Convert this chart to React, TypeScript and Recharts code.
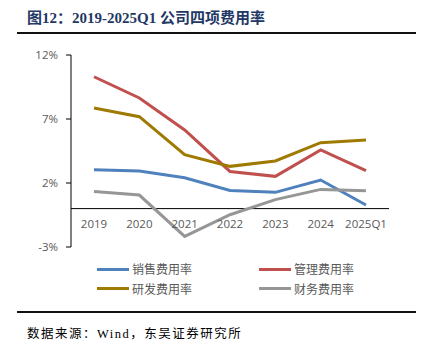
import { LineChart, Line, XAxis, YAxis, ReferenceLine, Legend } from 'recharts';

const categories = ['2019', '2020', '2021', '2022', '2023', '2024', '2025Q1'];
const sales = [3.04, 2.94, 2.41, 1.42, 1.27, 2.23, 0.28];
const admin = [10.3, 8.64, 6.14, 2.9, 2.52, 4.58, 2.96];
const rnd = [7.86, 7.18, 4.21, 3.3, 3.72, 5.15, 5.36];
const finance = [1.34, 1.06, -2.17, -0.48, 0.7, 1.5, 1.4];
const yTicks = [-3, 2, 7, 12];

const data = categories.map((name, i) => ({
  name,
  sales: sales[i],
  admin: admin[i],
  rnd: rnd[i],
  finance: finance[i],
}));

const series = [
  { key: 'sales', name: '销售费用率', color: '#4F81BD' },
  { key: 'admin', name: '管理费用率', color: '#C0504D' },
  { key: 'rnd', name: '研发费用率', color: '#9E7A00' },
  { key: 'finance', name: '财务费用率', color: '#969696' },
];

const sans = '"Open Sans", "Noto Sans CJK SC", sans-serif';

const XTick = (props: any) => {
  const { x, y, payload } = props;
  return (
    <text x={x} y={y - 19} textAnchor="middle" fill="#595959" fontSize={11.5} fontFamily={sans}>
      {payload.value}
    </text>
  );
};

const LegendBox = () => (
  <div style={{ position: 'relative', width: 425, height: 40 }}>
    {series.map((s, i) => (
      <div
        key={s.key}
        style={{
          position: 'absolute',
          left: i % 2 === 0 ? 97 : 259,
          top: i < 2 ? 0 : 19.5,
          display: 'flex',
          alignItems: 'center',
          height: 20,
        }}
      >
        <div style={{ width: 32, height: 3, background: s.color, marginRight: 3 }} />
        <span style={{ fontSize: 12, color: '#595959', fontFamily: sans }}>{s.name}</span>
      </div>
    ))}
  </div>
);

export default function App() {
  return (
    <div style={{ position: 'absolute', left: 0, top: 0, width: 425, height: 355, background: '#fff' }}>
      <div
        style={{
          position: 'absolute',
          left: 27,
          top: 6,
          fontFamily: '"Liberation Serif", "Noto Sans CJK SC", serif',
          fontWeight: 'bold',
          fontSize: 15,
          color: '#1F3864',
          whiteSpace: 'nowrap',
        }}
      >
        图12：2019-2025Q1 公司四项费用率
      </div>
      <div style={{ position: 'absolute', left: 17, top: 32, width: 399, height: 2, background: '#111' }} />
      <div style={{ position: 'absolute', left: 0, top: 0 }}>
        <LineChart width={425} height={310} data={data} margin={{ top: 55, right: 36, left: 21, bottom: 43 }}>
          <XAxis
            dataKey="name"
            tick={<XTick />}
            tickLine={false}
            axisLine={false}
            tickSize={0}
            tickMargin={0}
            height={20}
            interval={0}
            padding={{ left: 23, right: 23 }}
          />
          <YAxis
            domain={[-3, 12]}
            ticks={yTicks}
            width={50}
            tickFormatter={(v: number) => `${v}%`}
            tick={{ fill: '#595959', fontSize: 11.5, fontFamily: sans }}
            axisLine={{ stroke: '#000' }}
            tickLine={{ stroke: '#000' }}
            tickSize={5}
            tickMargin={8}
            interval={0}
          />
          <ReferenceLine y={0} stroke="#000" strokeWidth={1} />
          {series.map((s) => (
            <Line
              key={s.key}
              type="linear"
              dataKey={s.key}
              name={s.name}
              stroke={s.color}
              strokeWidth={3}
              dot={false}
              activeDot={false}
              isAnimationActive={false}
            />
          ))}
          <Legend
            layout="horizontal"
            verticalAlign="middle"
            align="center"
            content={<LegendBox />}
            wrapperStyle={{ position: 'absolute', left: 0, top: 259, width: 425, height: 40 }}
          />
        </LineChart>
      </div>
      <div style={{ position: 'absolute', left: 17, top: 311, width: 399, height: 1.5, background: '#111' }} />
      <div
        style={{
          position: 'absolute',
          left: 27,
          top: 323,
          fontFamily: '"Liberation Serif", "Noto Sans CJK SC", serif',
          fontSize: 12.5,
          letterSpacing: 1.5,
          color: '#000',
          whiteSpace: 'nowrap',
        }}
      >
        数据来源：Wind，东吴证券研究所
      </div>
    </div>
  );
}
